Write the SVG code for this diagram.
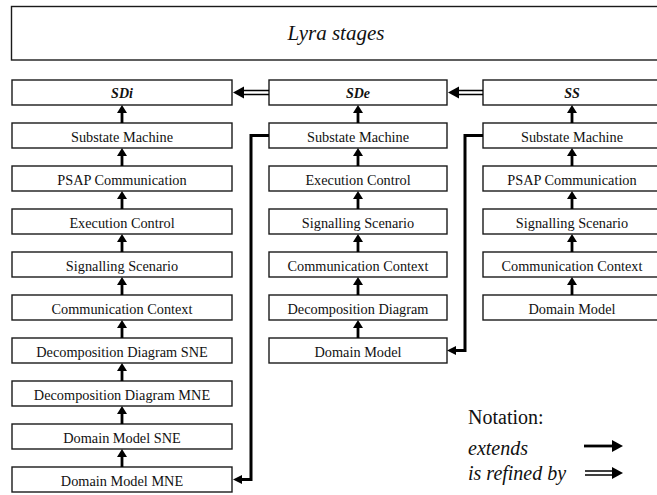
<svg xmlns="http://www.w3.org/2000/svg" width="657" height="495" viewBox="0 0 657 495">
  <style>
    .box { fill: #ffffff; stroke: #1a1a1a; stroke-width: 1.4; }
    .lbl { font-family: "Liberation Serif", "Times New Roman", serif; font-size: 14.3px; fill: #111; text-anchor: middle; }
    .stage { font-family: "Liberation Serif", "Times New Roman", serif; font-size: 14px; font-weight: bold; font-style: italic; fill: #111; text-anchor: middle; }
    .title { font-family: "Liberation Serif", "Times New Roman", serif; font-size: 21px; font-style: italic; fill: #111; text-anchor: middle; }
    .note { font-family: "Liberation Serif", "Times New Roman", serif; font-size: 20px; fill: #111; }
    .ext { fill: none; stroke: #000; stroke-width: 2.8; }
    .elbow { fill: none; stroke: #000; stroke-width: 3; }
    .ref { fill: none; stroke: #000; stroke-width: 1.6; }
    .head { fill: #000; }
  </style>
  <defs>
    <marker id="headUp" markerUnits="userSpaceOnUse" viewBox="0 0 8 10" markerWidth="8" markerHeight="10" refX="0" refY="5" orient="auto">
      <path d="M0,0 L8,5 L0,10 z" fill="#000"/>
    </marker>
    <marker id="headElbow" markerUnits="userSpaceOnUse" viewBox="0 0 9 9" markerWidth="9" markerHeight="9" refX="0" refY="4.5" orient="auto">
      <path d="M0,0 L9,4.5 L0,9 z" fill="#000"/>
    </marker>
    <marker id="headBig" markerUnits="userSpaceOnUse" viewBox="0 0 11 12" markerWidth="11" markerHeight="12" refX="0" refY="6" orient="auto">
      <path d="M0,0 L11,6 L0,12 z" fill="#000"/>
    </marker>
  </defs>

  <!-- Title -->
  <g id="title">
    <rect class="box" x="11.5" y="6.5" width="652" height="53.5"/>
    <text class="title" x="336" y="40">Lyra stages</text>
  </g>

  <!-- SDi column -->
  <g id="sdi"><rect class="box" x="12" y="80" width="220" height="25"/><text class="stage" x="122" y="97.5">SDi</text></g>
  <g id="sdi-substate"><rect class="box" x="12" y="123" width="220" height="25"/><text class="lbl" x="122" y="141.5">Substate Machine</text></g>
  <g id="sdi-psap"><rect class="box" x="12" y="166" width="220" height="25"/><text class="lbl" x="122" y="184.5">PSAP Communication</text></g>
  <g id="sdi-exec"><rect class="box" x="12" y="209" width="220" height="25"/><text class="lbl" x="122" y="227.5">Execution Control</text></g>
  <g id="sdi-signal"><rect class="box" x="12" y="252" width="220" height="25"/><text class="lbl" x="122" y="270.5">Signalling Scenario</text></g>
  <g id="sdi-context"><rect class="box" x="12" y="295" width="220" height="25"/><text class="lbl" x="122" y="313.5">Communication Context</text></g>
  <g id="sdi-decomp-sne"><rect class="box" x="12" y="338" width="220" height="25"/><text class="lbl" x="122" y="356.5">Decomposition Diagram SNE</text></g>
  <g id="sdi-decomp-mne"><rect class="box" x="12" y="381" width="220" height="25"/><text class="lbl" x="122" y="399.5">Decomposition Diagram MNE</text></g>
  <g id="sdi-domain-sne"><rect class="box" x="12" y="424" width="220" height="25"/><text class="lbl" x="122" y="442.5">Domain Model SNE</text></g>
  <g id="sdi-domain-mne"><rect class="box" x="12" y="467" width="220" height="25"/><text class="lbl" x="122" y="485.5">Domain Model MNE</text></g>

  <!-- SDe column -->
  <g id="sde"><rect class="box" x="269" y="80" width="178" height="25"/><text class="stage" x="358" y="97.5">SDe</text></g>
  <g id="sde-substate"><rect class="box" x="269" y="123" width="178" height="25"/><text class="lbl" x="358" y="141.5">Substate Machine</text></g>
  <g id="sde-exec"><rect class="box" x="269" y="166" width="178" height="25"/><text class="lbl" x="358" y="184.5">Execution Control</text></g>
  <g id="sde-signal"><rect class="box" x="269" y="209" width="178" height="25"/><text class="lbl" x="358" y="227.5">Signalling Scenario</text></g>
  <g id="sde-context"><rect class="box" x="269" y="252" width="178" height="25"/><text class="lbl" x="358" y="270.5">Communication Context</text></g>
  <g id="sde-decomp"><rect class="box" x="269" y="295" width="178" height="25"/><text class="lbl" x="358" y="313.5">Decomposition Diagram</text></g>
  <g id="sde-domain"><rect class="box" x="269" y="338" width="178" height="25"/><text class="lbl" x="358" y="356.5">Domain Model</text></g>

  <!-- SS column -->
  <g id="ss"><rect class="box" x="483" y="80" width="178" height="25"/><text class="stage" x="572" y="97.5">SS</text></g>
  <g id="ss-substate"><rect class="box" x="483" y="123" width="178" height="25"/><text class="lbl" x="572" y="141.5">Substate Machine</text></g>
  <g id="ss-psap"><rect class="box" x="483" y="166" width="178" height="25"/><text class="lbl" x="572" y="184.5">PSAP Communication</text></g>
  <g id="ss-signal"><rect class="box" x="483" y="209" width="178" height="25"/><text class="lbl" x="572" y="227.5">Signalling Scenario</text></g>
  <g id="ss-context"><rect class="box" x="483" y="252" width="178" height="25"/><text class="lbl" x="572" y="270.5">Communication Context</text></g>
  <g id="ss-domain"><rect class="box" x="483" y="295" width="178" height="25"/><text class="lbl" x="572" y="313.5">Domain Model</text></g>

  <!-- Connectors -->
  <g id="connectors">
    <!-- extends: SDi column -->
    <path class="ext" marker-end="url(#headUp)" d="M122,123 V113"/>
    <path class="ext" marker-end="url(#headUp)" d="M122,166 V156"/>
    <path class="ext" marker-end="url(#headUp)" d="M122,209 V199"/>
    <path class="ext" marker-end="url(#headUp)" d="M122,252 V242"/>
    <path class="ext" marker-end="url(#headUp)" d="M122,295 V285"/>
    <path class="ext" marker-end="url(#headUp)" d="M122,338 V328"/>
    <path class="ext" marker-end="url(#headUp)" d="M122,381 V371"/>
    <path class="ext" marker-end="url(#headUp)" d="M122,424 V414"/>
    <path class="ext" marker-end="url(#headUp)" d="M122,467 V457"/>
    <!-- extends: SDe column -->
    <path class="ext" marker-end="url(#headUp)" d="M358,123 V113"/>
    <path class="ext" marker-end="url(#headUp)" d="M358,166 V156"/>
    <path class="ext" marker-end="url(#headUp)" d="M358,209 V199"/>
    <path class="ext" marker-end="url(#headUp)" d="M358,252 V242"/>
    <path class="ext" marker-end="url(#headUp)" d="M358,295 V285"/>
    <path class="ext" marker-end="url(#headUp)" d="M358,338 V328"/>
    <!-- extends: SS column -->
    <path class="ext" marker-end="url(#headUp)" d="M572,123 V113"/>
    <path class="ext" marker-end="url(#headUp)" d="M572,166 V156"/>
    <path class="ext" marker-end="url(#headUp)" d="M572,209 V199"/>
    <path class="ext" marker-end="url(#headUp)" d="M572,252 V242"/>
    <path class="ext" marker-end="url(#headUp)" d="M572,295 V285"/>

    <!-- extends: cross-stage elbows -->
    <path class="elbow" marker-end="url(#headElbow)" d="M269,135.5 H251 V479.5 H242"/>
    <path class="elbow" marker-end="url(#headElbow)" d="M483,135.5 H465 V350.5 H456"/>

    <!-- is refined by: double line plus filled head -->
    <path class="ref" d="M269,90.5 H242 M269,94.5 H242"/>
    <polygon class="head" points="233,92.5 244,86.5 244,98.5"/>
    <path class="ref" d="M483,90.5 H457 M483,94.5 H457"/>
    <polygon class="head" points="448,92.5 459,86.5 459,98.5"/>

    <!-- Legend arrows -->
    <path class="ext" marker-end="url(#headBig)" d="M584,446 H612"/>
    <path class="ref" d="M585,471 H613 M585,475 H613"/>
    <polygon class="head" points="623,473 612,467 612,479"/>
  </g>

  <!-- Notation -->
  <g id="notation">
    <text class="note" x="468" y="424">Notation:</text>
    <text class="note" x="468" y="455" font-style="italic">extends</text>
    <text class="note" x="468" y="480" font-style="italic">is refined by</text>
  </g>
</svg>
